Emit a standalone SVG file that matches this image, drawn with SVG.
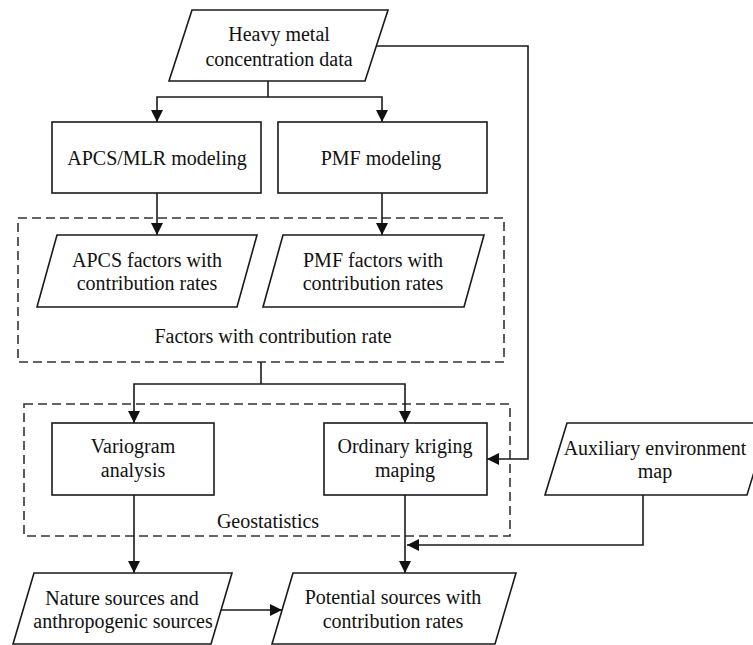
<svg xmlns="http://www.w3.org/2000/svg" width="753" height="645" viewBox="0 0 753 645">
<style>
.n{fill:#fff;stroke:#1a1a1a;stroke-width:1.6}
.g{fill:none;stroke:#333;stroke-width:1.6;stroke-dasharray:9 5}
.c{fill:none;stroke:#1a1a1a;stroke-width:1.6}
.a{marker-end:url(#ah)}
text{font-family:'Liberation Serif','Times New Roman','DejaVu Serif',serif;font-size:20px;fill:#111;text-anchor:middle}
</style>
<defs>
<marker id="ah" markerUnits="userSpaceOnUse" markerWidth="12" markerHeight="12" refX="12" refY="6" orient="auto">
<path d="M0,0 L12,6 L0,12 z" fill="#111"/>
</marker>
</defs>
<rect width="753" height="645" fill="#fff"/>
<g font-family="Liberation Serif, Times New Roman, serif" font-size="20">
<g id="groups">
<rect id="factors-group" class="g" x="18" y="218" width="486" height="144"/>
<text x="273" y="343" font-family="Liberation Serif">Factors with contribution rate</text>
<rect id="geostatistics-group" class="g" x="24" y="404" width="486" height="132"/>
<text x="268" y="528" font-family="Liberation Serif">Geostatistics</text>
</g>
<g id="connectors">
<path class="c" d="M268,81 V97"/>
<path class="c a" d="M268,97 H157 V122"/>
<path class="c a" d="M268,97 H382 V122"/>
<path class="c a" d="M157,193 V235"/>
<path class="c a" d="M382,193 V235"/>
<path class="c a" d="M376,46 H528 V459 H487"/>
<path class="c" d="M261,362 V384"/>
<path class="c a" d="M261,384 H134 V423"/>
<path class="c a" d="M261,384 H405 V423"/>
<path class="c a" d="M134,495 V573"/>
<path class="c a" d="M405,495 V573"/>
<path class="c a" d="M643,495 V545 H407"/>
<path class="c a" d="M221,610 H282"/>
</g>
<g id="heavy-metal">
<polygon class="n" points="192,10 388,10 365,81 169,81"/>
<text x="279" y="41" font-family="Liberation Serif">Heavy metal</text>
<text x="279" y="66" font-family="Liberation Serif">concentration data</text>
</g>
<g id="apcs-mlr">
<rect class="n" x="52" y="122" width="209" height="71"/>
<text x="157" y="165" font-family="Liberation Serif">APCS/MLR modeling</text>
</g>
<g id="pmf">
<rect class="n" x="278" y="122" width="209" height="71"/>
<text x="381" y="165" font-family="Liberation Serif">PMF modeling</text>
</g>
<g id="apcs-factors">
<polygon class="n" points="57,235 257,235 237,307 37,307"/>
<text x="147" y="267" font-family="Liberation Serif">APCS factors with</text>
<text x="147" y="290" font-family="Liberation Serif">contribution rates</text>
</g>
<g id="pmf-factors">
<polygon class="n" points="283,235 484,235 464,307 263,307"/>
<text x="373" y="267" font-family="Liberation Serif">PMF factors with</text>
<text x="373" y="290" font-family="Liberation Serif">contribution rates</text>
</g>
<g id="variogram">
<rect class="n" x="52" y="423" width="162" height="72"/>
<text x="133" y="453" font-family="Liberation Serif">Variogram</text>
<text x="133" y="477" font-family="Liberation Serif">analysis</text>
</g>
<g id="kriging">
<rect class="n" x="324" y="423" width="163" height="72"/>
<text x="405" y="453" font-family="Liberation Serif">Ordinary kriging</text>
<text x="405" y="477" font-family="Liberation Serif">maping</text>
</g>
<g id="auxiliary">
<polygon class="n" points="567,423 769,423 747,495 545,495"/>
<text x="655" y="455" font-family="Liberation Serif">Auxiliary environment</text>
<text x="655" y="478" font-family="Liberation Serif">map</text>
</g>
<g id="nature">
<polygon class="n" points="34,573 232,573 211,644 13,644"/>
<text x="122" y="605" font-family="Liberation Serif">Nature sources and</text>
<text x="123" y="628" font-family="Liberation Serif">anthropogenic sources</text>
</g>
<g id="potential">
<polygon class="n" points="293,573 516,573 495,644 272,644"/>
<text x="393" y="604" font-family="Liberation Serif">Potential sources with</text>
<text x="393" y="628" font-family="Liberation Serif">contribution rates</text>
</g>
</g>
</svg>
